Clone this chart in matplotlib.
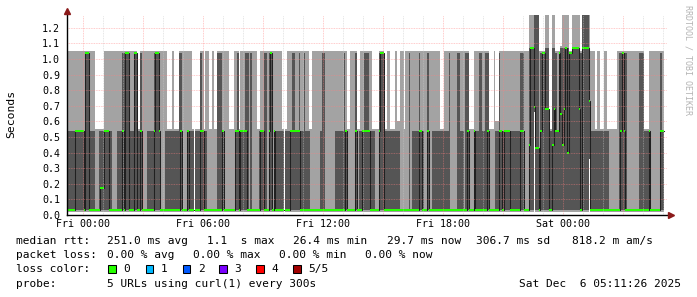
import numpy as np
import matplotlib
matplotlib.use("Agg")
import matplotlib.pyplot as plt
from matplotlib.patches import Rectangle

# smokeping graph: 5 pings per 5 minute step, 30 hours shown
step_hours = 5 / 60
start_hour = -0.775          # Thu 23:13:30, hours relative to Fri 00:00

# each letter stands for one set of five sorted ping times (seconds)
code_letters = list("abcdhefqrXYZQSTWRyzig")
ping_min    = [0.020, 0.020, 0.020, 0.020, 0.020, 0.020, 0.020, 0.020, 0.020, 0.020, 0.020, 0.020, 0.020, 0.660, 0.020, 0.020, 0.360, 0.020, 0.020, 0.020, 0.020]
ping_low    = [0.035, 0.035, 0.035, 0.035, 0.035, 0.035, 0.035, 0.035, 0.035, 0.035, 0.035, 0.035, 0.035, 0.660, 0.035, 0.035, 0.360, 0.035, 0.035, 0.035, 0.035]
ping_median = [0.035, 0.540, 0.035, 0.540, 1.040, 0.035, 0.540, 0.170, 0.035, 1.070, 0.450, 0.680, 0.400, 0.690, 0.430, 1.070, 0.730, 0.450, 0.650, 0.035, 0.035]
ping_high   = [0.540, 0.540, 1.040, 1.040, 1.040, 0.540, 0.540, 0.540, 0.540, 1.070, 1.070, 1.070, 1.070, 1.350, 1.350, 1.350, 1.070, 1.070, 1.070, 0.035, 0.035]
ping_max    = [1.050, 1.050, 1.050, 1.050, 1.050, 0.550, 0.550, 0.550, 0.600, 1.350, 1.350, 1.350, 1.350, 1.350, 1.350, 1.350, 1.350, 1.080, 1.080, 1.050, 0.550]

# one letter per step, "_" = no data; six blocks of 60 steps (5 hours each)
block1 = "aaaaa bbbbb a hh aaaa ee eqq bb baabbaaaa dchh aaa hh ee d bb aaaaa dhhd bbaa"
block2 = "eee a eee cdbabbaa e_eee db e aa ee a ee cccbbaa eee abd e bbb dc acaaa eebb cc"
block3 = "ad hbb aaaa e_e aab ddbbd aa c aa ee aabbaa cc aa abbaaaaaa cb ee abbd ee abdd"
block4 = "dba eeee dhh ee aa eee arr aa e aac aaaaa db aaa db aaaaaa ee aaa cb aab cc aaa c"
block5 = "d eee baa cc aa cd eee b rr db abbbbaaaaaa dd aaa YXX S TT bdhh ZZ ee YZ db hz YZX"
block6 = "Q hh XX XX Z c W WWW R aaa e aa ee aa eeeeee ac dhd cb aaaaaa ccc eee bb aaaaa db __"

# step ranges where the lower half is only light smoke (4 of 5 pings fast)
lower_light_runs = [(17, 18), (27, 29), (45, 47), (56, 58), (68, 71), (84, 90), (94, 100),
                    (107, 114), (120, 123), (146, 151), (153, 160), (168, 174), (185, 190),
                    (199, 206), (214, 218), (229, 233), (238, 243), (254, 259), (275, 278),
                    (281, 285), (298, 302), (325, 332), (336, 343), (350, 355)]

y_ticks = [0.0, 0.1, 0.2, 0.3, 0.4, 0.5, 0.6, 0.7, 0.8, 0.9, 1.0, 1.1, 1.2]
x_ticks = [0, 6, 12, 18, 24]
x_labels = ["Fri 00:00", "Fri 06:00", "Fri 12:00", "Fri 18:00", "Sat 00:00"]

loss_labels = ["0", "1", "2", "3", "4", "5/5"]
loss_colors = ["#26ff00", "#00b8ff", "#0059ff", "#7b00ff", "#ff0000", "#a10000"]

steps = list("".join(b.replace(" ", "") for b in [block1, block2, block3, block4, block5, block6]))
swap = {"a": "i", "b": "i", "e": "g", "f": "g"}
for lo, hi in lower_light_runs:
    for k in range(lo, hi + 1):
        steps[k] = swap.get(steps[k], steps[k])

cols = [ping_min, ping_low, ping_median, ping_high, ping_max]
table = {c: [col[i] for col in cols] for i, c in enumerate(code_letters)}
vals = np.array([table[c] if c in table else [np.nan] * 5 for c in steps])
p1, p2, med, p4, p5 = vals.T
n = len(steps)

edges = start_hour + step_hours * np.arange(n + 1)
xs = np.repeat(edges, 2)[1:-1]
st = lambda v: np.repeat(v, 2)

mono = "DejaVu Sans Mono"
W, H = 697, 297
fig = plt.figure(figsize=(W / 100, H / 100), dpi=100)
ax = fig.add_axes([67 / W, 82 / H, 600 / W, 200.5 / H])
ax.set_xlim(edges[0], edges[-1])
ax.set_ylim(0, 200.5 / 156.1)

ax.fill_between(xs, st(p1), st(p5), color="#a3a3a3", lw=0, zorder=1)
ax.fill_between(xs, st(p2), st(p4), color="#555555", lw=0, zorder=2)
ax.plot(xs, st(med), color="#202020", lw=0.75, zorder=3)
band = 0.0065
ax.fill_between(xs, st(med) - band, st(med) + band, color="#26ff00", lw=0, zorder=4)

# grid (rrdtool puts it over the graph)
dot = (0, (1, 1))
for h in range(0, 30):
    if h % 3:
        ax.axvline(h, color="#c8c8c8", lw=0.6, ls=dot, alpha=0.6, zorder=5)
    else:
        ax.axvline(h, color="#ff8080", lw=0.6, ls=dot, alpha=0.55, zorder=5)
for v in y_ticks[1:]:
    ax.axhline(v, color="#ff8080", lw=0.6, ls=dot, alpha=0.55, zorder=5)

for s in ax.spines.values():
    s.set_visible(False)
ax.plot([0, 1.006], [0, 0], transform=ax.transAxes, color="black", lw=1, clip_on=False, zorder=6)
ax.plot([0, 0], [0, 1.015], transform=ax.transAxes, color="black", lw=1, clip_on=False, zorder=6)
ax.plot([1.007], [0], transform=ax.transAxes, marker=">", ms=4, color="#8b1a1a", clip_on=False, zorder=7)
ax.plot([0], [1.018], transform=ax.transAxes, marker="^", ms=4, color="#8b1a1a", clip_on=False, zorder=7)

ax.set_yticks(y_ticks)
ax.set_yticklabels(["%.1f" % v for v in y_ticks], family=mono, fontsize=7.2)
ax.set_xticks(x_ticks)
ax.set_xticklabels(x_labels, family=mono, fontsize=7.2)
ax.tick_params(axis="y", length=0, pad=5)
ax.tick_params(axis="x", length=0, pad=3)

fig.text(11 / W, 1 - 113.5 / H, "Seconds", family=mono, fontsize=8.2, rotation=90, ha="center", va="center")
fig.text(688 / W, 1 - 60 / H, "RRDTOOL / TOBI OETIKER", family=mono, fontsize=6, rotation=270,
         ha="center", va="center", color="#b4b4b4")

def put(x, y, s, ha="left"):
    fig.text(x / W, 1 - y / H, s, family=mono, fontsize=8.0, ha=ha, va="center")

row1 = [("median rtt:", 16), ("251.0 ms avg", 107.3), ("1.1  s max", 207.3), ("26.4 ms min", 293.3),
        ("29.7 ms now", 386.7), ("306.7 ms sd", 475.5), ("818.2 m am/s", 571.7)]
row2 = [("packet loss:", 16), ("0.00 % avg", 107.3), ("0.00 % max", 193.3), ("0.00 % min", 279.3),
        ("0.00 % now", 365)]
for s, x in row1:
    put(x, 241.3, s)
for s, x in row2:
    put(x, 255.3, s)

put(16, 269.3, "loss color:")
sq_x = [108.3, 145.7, 182.7, 219.3, 256.0, 293.3]
for x, lab, c in zip(sq_x, loss_labels, loss_colors):
    fig.patches.append(Rectangle((x / W, 1 - 273.3 / H), 7.5 / W, 8 / H, transform=fig.transFigure,
                                 facecolor=c, edgecolor="black", lw=0.75))
    put(x + 15, 269.3, lab)

put(16, 283.7, "probe:")
put(107.3, 283.7, "5 URLs using curl(1) every 300s")
put(681, 283.7, "Sat Dec  6 05:11:26 2025", ha="right")

fig.savefig("out.png", dpi=100)
